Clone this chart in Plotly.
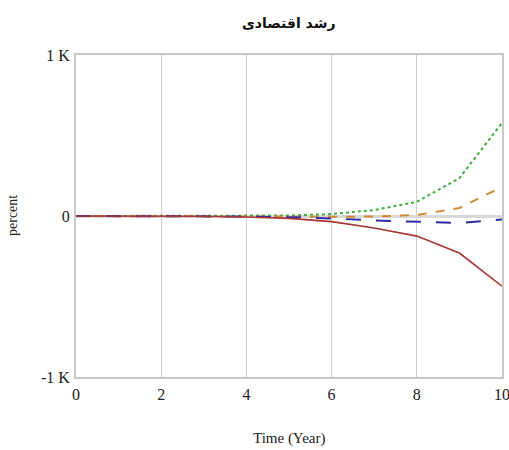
import plotly.graph_objects as go

years = [0, 1, 2, 3, 4, 5, 6, 7, 8, 9, 10]
green_dot = [0, 0, 0, 0, 0, 3, 12, 37, 88, 235, 578]
orange_dash = [0, 0, 0, 0, -2, -4, -5, -3, 6, 50, 180]
blue_dash = [0, 0, 0, 0, -3, -8, -15, -28, -37, -43, -22]
red_solid = [0, 0, 0, -2, -6, -15, -35, -75, -125, -230, -436]

y_ticks = [-1000, 0, 1000]
y_tick_labels = ["-1 K", "0", "1 K"]
x_ticks = [0, 2, 4, 6, 8, 10]

fig = go.Figure()
fig.add_trace(go.Scatter(x=years, y=green_dot, mode="lines",
                         line=dict(color="#3fae3f", width=2, dash="dot")))
fig.add_trace(go.Scatter(x=years, y=orange_dash, mode="lines",
                         line=dict(color="#cf8a38", width=2, dash="dash")))
fig.add_trace(go.Scatter(x=years, y=blue_dash, mode="lines",
                         line=dict(color="#2b2ba3", width=2, dash="longdash")))
fig.add_trace(go.Scatter(x=years, y=red_solid, mode="lines",
                         line=dict(color="#a83636", width=1.6)))

serif = "Liberation Serif, Times New Roman, serif"
L, R, T, B = 76, 7, 55, 73
W, H = 509, 450
fig.update_layout(
    width=W, height=H,
    margin=dict(l=L, r=R, t=T, b=B),
    paper_bgcolor="white", plot_bgcolor="white",
    showlegend=False,
    font=dict(family=serif, size=14, color="#222"),
    xaxis=dict(range=[0, 10], tickvals=x_ticks, showgrid=True, gridcolor="#cfcfcf",
               gridwidth=1, zeroline=False, showline=True, linecolor="#c8c8c8",
               linewidth=2, mirror=True, ticks="outside", ticklen=2, tickcolor="rgba(0,0,0,0)",
               automargin=False, ticklabeloverflow="allow",
               tickfont=dict(family=serif, size=16)),
    yaxis=dict(range=[-1000, 1000], tickvals=y_ticks, ticktext=y_tick_labels,
               showgrid=False, zeroline=True, zerolinecolor="#d8d8d8", zerolinewidth=3,
               showline=True, linecolor="#c8c8c8", linewidth=2, mirror=True,
               ticks="outside", ticklen=1, tickcolor="rgba(0,0,0,0)", automargin=False,
               tickfont=dict(family=serif, size=16)),
    annotations=[
        dict(text="<b>رشد اقتصادی</b>", xref="paper", yref="paper",
             x=0.5, y=1 + (T - 23) / (H - T - B), xanchor="center", yanchor="middle",
             showarrow=False,
             font=dict(family="DejaVu Sans, Noto Sans, sans-serif", size=14, color="#111")),
        dict(text="Time (Year)", xref="paper", yref="paper",
             x=0.5, y=-(438 - (H - B)) / (H - T - B), xanchor="center", yanchor="middle",
             showarrow=False, font=dict(family=serif, size=15, color="#222")),
        dict(text="percent", xref="paper", yref="paper", textangle=-90,
             x=-(L - 12) / (W - L - R), y=0.5, xanchor="center", yanchor="middle",
             showarrow=False, font=dict(family=serif, size=14, color="#222")),
    ],
)
fig.write_html("out.html", config={"displayModeBar": False},
               post_script="document.body.style.margin='0';document.body.style.overflow='hidden';")
